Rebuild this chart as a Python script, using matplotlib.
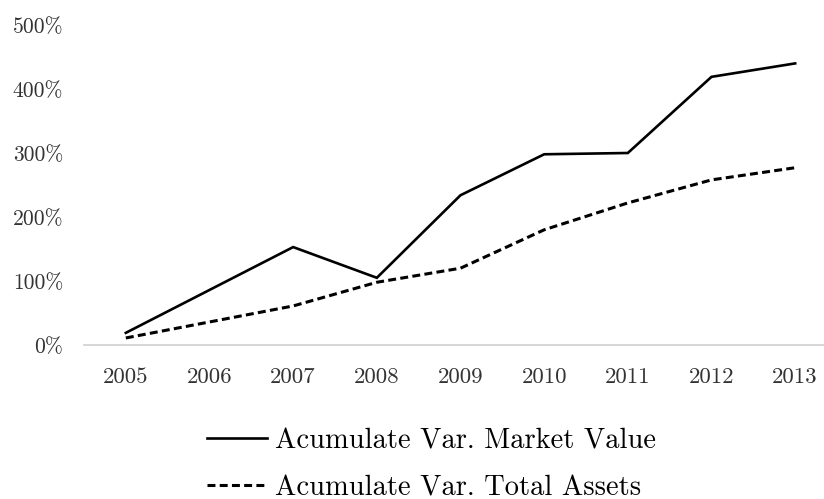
import matplotlib
matplotlib.use("Agg")
import matplotlib.pyplot as plt

# data (percent)
years = ['2005', '2006', '2007', '2008', '2009', '2010', '2011', '2012', '2013']
market_value = [19, 86, 153, 105, 234, 298, 300, 419, 440]
total_assets = [11, 36, 61, 98, 120, 180, 222, 258, 277]
yticks = [0, 100, 200, 300, 400, 500]

plt.rcParams['font.family'] = ['cmr10', 'DejaVu Serif']
plt.rcParams['axes.unicode_minus'] = False

fig = plt.figure(figsize=(8.24, 4.99), dpi=100)
ax = fig.add_axes([84 / 824, 1 - 345 / 499, (837 - 84) / 824, (345 - 25) / 499])

x = list(range(len(years)))
ax.plot(x, market_value, color='black', lw=1.9, solid_joinstyle='miter',
        label='Acumulate Var. Market Value')
ax.plot(x, total_assets, color='black', lw=2.2, linestyle=(0, (2.6, 1.4)),
        label='Acumulate Var. Total Assets')

ax.set_xlim(-0.5, len(years) - 0.5)
ax.set_ylim(0, 500)
ax.set_xticks(x)
ax.set_xticklabels(years)
ax.set_yticks(yticks)
ax.set_yticklabels([f'{v}%' for v in yticks])

for s in ['top', 'right', 'left']:
    ax.spines[s].set_visible(False)
ax.spines['bottom'].set_color('#d0d0d0')
ax.spines['bottom'].set_linewidth(1.2)
ax.tick_params(axis='both', length=0, labelcolor='#333333')
ax.tick_params(axis='y', pad=15, labelsize=15.5)
ax.tick_params(axis='x', pad=16, labelsize=16.5)

fig.legend(loc='upper left', bbox_to_anchor=(207 / 824, 1 - 428 / 499),
           frameon=False, fontsize=20.5, handlelength=2.1, handletextpad=0.3,
           labelspacing=0.72, borderpad=0, borderaxespad=0, ncol=1)

fig.savefig('out.png', dpi=100)
